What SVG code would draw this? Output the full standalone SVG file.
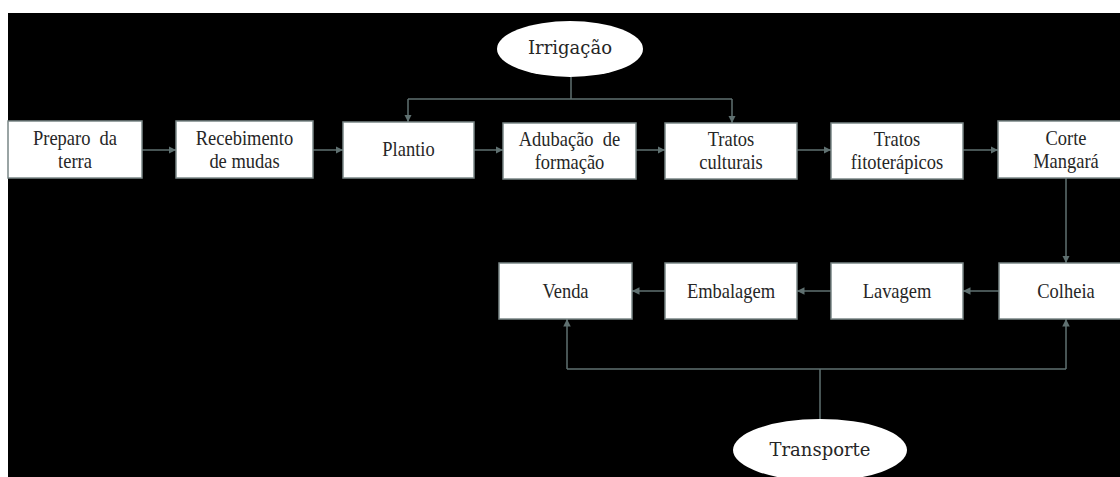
<svg xmlns="http://www.w3.org/2000/svg" width="1120" height="477" viewBox="0 0 1120 477">
  <defs>
    <marker id="arrow" viewBox="0 0 10 10" refX="10" refY="5" markerWidth="5" markerHeight="5" orient="auto" markerUnits="strokeWidth">
      <path d="M0,0 L10,5 L0,10 Z" fill="#5f7070"/>
    </marker>
    <style>
      .box { fill: #ffffff; stroke: #7a8787; stroke-width: 1.5; }
      .oval { fill: #ffffff; }
      .lbl { font-family: 'Liberation Serif', 'DejaVu Serif', serif; font-size: 21px; fill: #262626; text-anchor: middle; }
      .olbl { font-family: 'DejaVu Serif', serif; font-size: 18px; fill: #262626; text-anchor: middle; }
      .link { fill: none; stroke: #5f7070; stroke-width: 1.5; }
      .arr { marker-end: url(#arrow); }
    </style>
  </defs>

  <!-- page and dark panel -->
  <rect x="0" y="0" width="1120" height="477" fill="#ffffff"/>
  <rect x="8" y="13" width="1112" height="464" fill="#000000"/>

  <!-- connectors -->
  <g id="connectors">
    <!-- top row, left to right -->
    <path class="link arr" d="M142,150 H176"/>
    <path class="link arr" d="M313,150 H343"/>
    <path class="link arr" d="M474,150 H503"/>
    <path class="link arr" d="M636,150 H665"/>
    <path class="link arr" d="M797,150 H831"/>
    <path class="link arr" d="M963,150 H998"/>
    <!-- down to harvest -->
    <path class="link arr" d="M1066,178 V263"/>
    <!-- bottom row, right to left -->
    <path class="link arr" d="M999,291 H963"/>
    <path class="link arr" d="M831,291 H797"/>
    <path class="link arr" d="M665,291 H632"/>
    <!-- irrigation branch -->
    <path class="link" d="M571,77 V99 M408,99 H732"/>
    <path class="link arr" d="M408,99 V122"/>
    <path class="link arr" d="M732,99 V123"/>
    <!-- transport branch -->
    <path class="link" d="M820,419 V369 M567,369 H1066"/>
    <path class="link arr" d="M567,369 V319"/>
    <path class="link arr" d="M1066,369 V319"/>
  </g>

  <!-- top row -->
  <g id="preparo">
    <rect class="box" x="8" y="121" width="134" height="57"/>
    <text class="lbl" font-family="Liberation Serif" transform="translate(75,0) scale(0.88,1)" y="145">Preparo&#160; da</text>
    <text class="lbl" font-family="Liberation Serif" transform="translate(75,0) scale(0.88,1)" y="168">terra</text>
  </g>
  <g id="recebimento">
    <rect class="box" x="176" y="121" width="137" height="57"/>
    <text class="lbl" transform="translate(244.5,0) scale(0.88,1)" y="145">Recebimento</text>
    <text class="lbl" transform="translate(244.5,0) scale(0.88,1)" y="168">de mudas</text>
  </g>
  <g id="plantio">
    <rect class="box" x="343" y="122" width="131" height="56"/>
    <text class="lbl" transform="translate(408.5,0) scale(0.88,1)" y="156">Plantio</text>
  </g>
  <g id="adubacao">
    <rect class="box" x="503" y="123" width="133" height="56"/>
    <text class="lbl" transform="translate(569.5,0) scale(0.88,1)" y="146">Adubação&#160; de</text>
    <text class="lbl" transform="translate(569.5,0) scale(0.88,1)" y="169">formação</text>
  </g>
  <g id="tratos-culturais">
    <rect class="box" x="665" y="123" width="132" height="56"/>
    <text class="lbl" transform="translate(731,0) scale(0.88,1)" y="146">Tratos</text>
    <text class="lbl" transform="translate(731,0) scale(0.88,1)" y="169">culturais</text>
  </g>
  <g id="tratos-fitoterapicos">
    <rect class="box" x="831" y="123" width="132" height="56"/>
    <text class="lbl" transform="translate(897,0) scale(0.88,1)" y="146">Tratos</text>
    <text class="lbl" transform="translate(897,0) scale(0.88,1)" y="169">fitoterápicos</text>
  </g>
  <g id="corte">
    <rect class="box" x="998" y="121" width="135" height="57"/>
    <text class="lbl" transform="translate(1066,0) scale(0.88,1)" y="145">Corte</text>
    <text class="lbl" transform="translate(1066,0) scale(0.88,1)" y="168">Mangará</text>
  </g>

  <!-- bottom row -->
  <g id="venda">
    <rect class="box" x="499" y="263" width="133" height="56"/>
    <text class="lbl" transform="translate(565.5,0) scale(0.88,1)" y="298">Venda</text>
  </g>
  <g id="embalagem">
    <rect class="box" x="665" y="263" width="132" height="56"/>
    <text class="lbl" transform="translate(731,0) scale(0.88,1)" y="298">Embalagem</text>
  </g>
  <g id="lavagem">
    <rect class="box" x="831" y="263" width="132" height="56"/>
    <text class="lbl" transform="translate(897,0) scale(0.88,1)" y="298">Lavagem</text>
  </g>
  <g id="colheia">
    <rect class="box" x="999" y="263" width="134" height="56"/>
    <text class="lbl" transform="translate(1066,0) scale(0.88,1)" y="298">Colheia</text>
  </g>

  <!-- support activities -->
  <g id="irrigacao">
    <ellipse class="oval" cx="570" cy="49" rx="73" ry="28"/>
    <text class="olbl" x="570" y="54">Irrigação</text>
  </g>
  <g id="transporte">
    <ellipse class="oval" cx="820" cy="450" rx="87" ry="31"/>
    <text class="olbl" x="820" y="456">Transporte</text>
  </g>
</svg>
